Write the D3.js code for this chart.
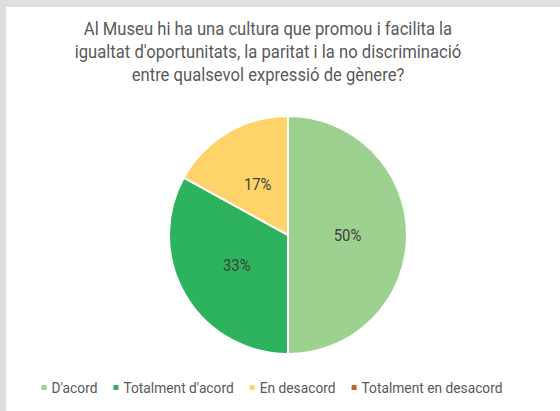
<!DOCTYPE html>
<html>
<head>
<meta charset="utf-8">
<script src="https://cdn.jsdelivr.net/npm/d3@7"></script>
<style>
  body { margin: 0; background: #e0dfdd; }
  svg { display: block; }
  text { font-family: Roboto, "Liberation Sans", sans-serif; fill: #595959; }
</style>
</head>
<body>
<svg id="chart"></svg>
<script>
const categories = ["D'acord", "Totalment d'acord", "En desacord", "Totalment en desacord"];
const values = [50, 33, 17, 0];
const colors = ["#9dd18f", "#2db35d", "#fed46a", "#c8602a"];
const titleLines = [
  "Al Museu hi ha una cultura que promou i facilita la",
  "igualtat d'oportunitats, la paritat i la no discriminació",
  "entre qualsevol expressió de gènere?"
];

const width = 560, height = 411;
const squeeze = 0.9; // the source font is a bit condensed

const svg = d3.select('#chart')
              .attr('width', width)
              .attr('height', height);

// chart area (white panel on grey frame)
svg.append('rect')
   .attr('x', 6).attr('y', 7)
   .attr('width', width - 6).attr('height', height - 7)
   .attr('fill', '#ffffff');

// title
svg.append('g')
   .selectAll('text')
   .data(titleLines)
   .join('text')
   .attr('transform', (d, i) => `translate(268,${35 + i * 23}) scale(${squeeze},1)`)
   .attr('text-anchor', 'middle')
   .attr('font-size', 18.5)
   .text(d => d);

// pie
const cx = 288, cy = 235, r = 119;
const data = categories.map((c, i) => ({ name: c, value: values[i], color: colors[i] }));
const pie = d3.pie().sort(null).value(d => d.value);
const arc = d3.arc().innerRadius(0).outerRadius(r);
const labelArc = d3.arc().innerRadius(r * 0.5).outerRadius(r * 0.5);

const plot = svg.append('g')
                .attr('transform', `translate(${cx},${cy})`);

const arcs = pie(data).filter(d => d.data.value > 0);

plot.selectAll('path')
    .data(arcs)
    .join('path')
    .attr('d', arc)
    .attr('fill', d => d.data.color)
    .attr('stroke', '#ffffff')
    .attr('stroke-width', 2);

plot.selectAll('text')
    .data(arcs)
    .join('text')
    .attr('transform', d => `translate(${labelArc.centroid(d)}) scale(${squeeze},1)`)
    .attr('text-anchor', 'middle')
    .attr('dy', '0.35em')
    .attr('font-size', 16.5)
    .style('fill', '#404040')
    .text(d => d.data.value + '%');

// legend
const legend = svg.append('g');
const items = legend.selectAll('g')
                    .data(data)
                    .join('g');
items.append('rect')
     .attr('width', 5).attr('height', 5)
     .attr('y', -3)
     .attr('fill', d => d.color);
items.append('text')
     .attr('transform', `translate(10,0) scale(${squeeze},1)`)
     .attr('dy', '0.35em')
     .attr('font-size', 15.3)
     .text(d => d.name);

let xPos = 0;
const gap = 16;
items.each(function () {
  const g = d3.select(this);
  g.attr('transform', `translate(${xPos},0)`);
  xPos += this.getBoundingClientRect().width + gap;
});
const legendWidth = xPos - gap;
legend.attr('transform', `translate(${272 - legendWidth / 2},388)`);
</script>
</body>
</html>
